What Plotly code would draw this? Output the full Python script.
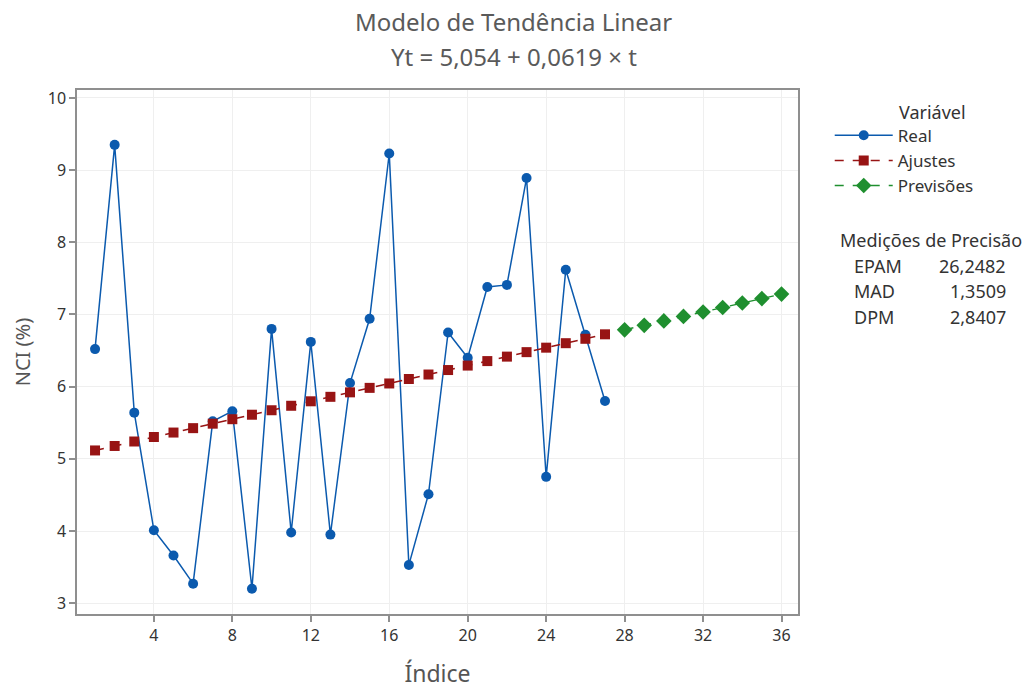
import plotly.graph_objects as go

# ---- data ----
t_real = list(range(1, 28))
real = [6.52, 9.35, 5.64, 4.01, 3.66, 3.27, 5.52, 5.66, 3.20, 6.80,
        3.98, 6.62, 3.95, 6.05, 6.94, 9.23, 3.53, 4.51, 6.75, 6.40,
        7.38, 7.41, 8.89, 4.75, 7.62, 6.72, 5.80]
fits = [5.116, 5.178, 5.240, 5.302, 5.364, 5.425, 5.487, 5.549, 5.611, 5.673,
        5.735, 5.797, 5.859, 5.921, 5.983, 6.044, 6.106, 6.168, 6.230, 6.292,
        6.354, 6.416, 6.478, 6.540, 6.602, 6.663, 6.725]
t_fc = list(range(28, 37))
forecast = [6.787, 6.849, 6.911, 6.973, 7.035, 7.097, 7.159, 7.220, 7.282]

x_ticks = [4, 8, 12, 16, 20, 24, 28, 32, 36]
y_ticks = [3, 4, 5, 6, 7, 8, 9, 10]

measures = ["EPAM", "MAD", "DPM"]
measure_vals = ["26,2482", "1,3509", "2,8407"]

title1 = "Modelo de Tendência Linear"
title2 = "Yt = 5,054 + 0,0619 × t"

FONT = "Noto Sans"
BLUE = "#0B5AAE"
RED = "#981414"
GREEN = "#1F8F2F"
TXT = "#333333"

fig = go.Figure()
fig.add_trace(go.Scatter(x=t_real, y=real, name="Real", mode="lines+markers",
                         line=dict(color=BLUE, width=1.5),
                         marker=dict(symbol="circle", size=10, color=BLUE)))
fig.add_trace(go.Scatter(x=t_real, y=fits, name="Ajustes", mode="lines+markers",
                         line=dict(color=RED, width=1.5, dash="dash"),
                         marker=dict(symbol="square", size=10, color=RED)))
fig.add_trace(go.Scatter(x=t_fc, y=forecast, name="Previsões", mode="lines+markers",
                         line=dict(color=GREEN, width=1.5, dash="dash"),
                         marker=dict(symbol="diamond", size=12, color=GREEN)))

axis_common = dict(showline=True, linecolor="#8f8f8f", linewidth=1.5, mirror=True,
                   ticks="outside", ticklen=6, tickcolor="#8f8f8f", tickwidth=1.5,
                   showgrid=True, gridcolor="#efefef", gridwidth=1, zeroline=False,
                   automargin=False,
                   tickfont=dict(family=FONT, size=16, color=TXT))

fig.update_xaxes(range=[0.08, 36.84], tickvals=x_ticks,
                 title=dict(text="Índice", font=dict(family=FONT, size=23, color="#555555"),
                            standoff=23),
                 **axis_common)
fig.update_yaxes(range=[2.85, 10.11], tickvals=y_ticks,
                 title=dict(text="NCI (%)", font=dict(family=FONT, size=20, color="#555555"),
                            standoff=12),
                 **axis_common)

annotations = [
    dict(text=title1, x=0.606, y=1.13, xref="paper", yref="paper", showarrow=False,
         xanchor="center", yanchor="middle", font=dict(family=FONT, size=24, color="#5a5a5a")),
    dict(text=title2, x=0.606, y=1.063, xref="paper", yref="paper", showarrow=False,
         xanchor="center", yanchor="middle", font=dict(family=FONT, size=24, color="#5a5a5a")),
    dict(text="Variável", x=1.137, y=0.958, xref="paper", yref="paper", showarrow=False,
         xanchor="left", yanchor="middle", font=dict(family=FONT, size=18, color=TXT)),
    dict(text="Medições de Precisão", x=1.0555, y=0.714, xref="paper", yref="paper",
         showarrow=False, xanchor="left", yanchor="middle",
         font=dict(family=FONT, size=18, color=TXT)),
]
for i, (m, v) in enumerate(zip(measures, measure_vals)):
    yy = 0.664 - i * 0.0485
    annotations.append(dict(text=m, x=1.075, y=yy, xref="paper", yref="paper", showarrow=False,
                            xanchor="left", yanchor="middle",
                            font=dict(family=FONT, size=18, color=TXT)))
    annotations.append(dict(text=v, x=1.291, y=yy, xref="paper", yref="paper", showarrow=False,
                            xanchor="right", yanchor="middle",
                            font=dict(family=FONT, size=18, color=TXT)))

fig.update_layout(
    width=1028, height=689,
    margin=dict(l=77, r=230, t=90, b=75),
    paper_bgcolor="white", plot_bgcolor="white",
    showlegend=True,
    legend=dict(x=1.044, y=0.947, xanchor="left", yanchor="top",
                font=dict(family=FONT, size=17, color=TXT),
                bgcolor="rgba(0,0,0,0)", itemwidth=58),
    annotations=annotations,
)

fig.write_html("out.html")
